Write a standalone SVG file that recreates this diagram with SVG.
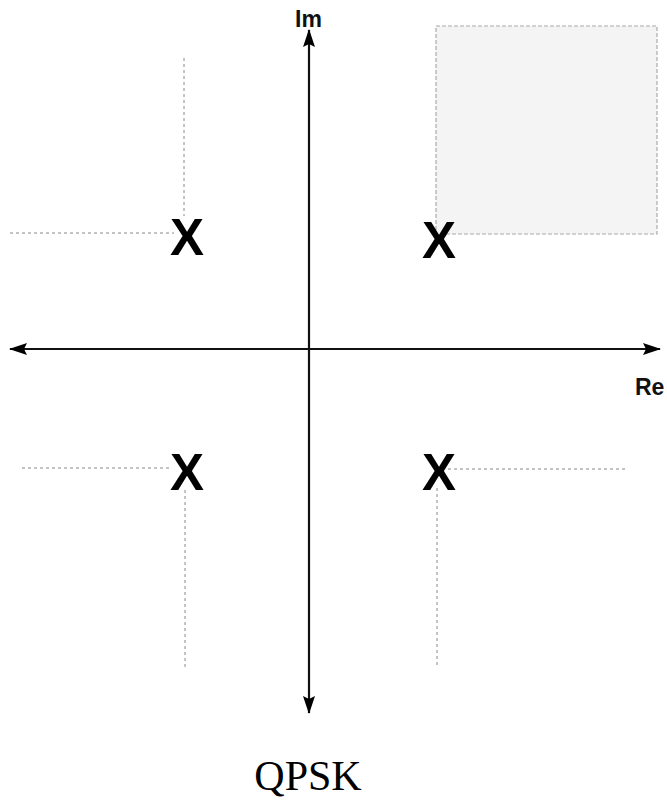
<svg xmlns="http://www.w3.org/2000/svg" width="667" height="801" viewBox="0 0 667 801">
<style>
.axis{stroke:#111;stroke-width:2.2;fill:none}
.dash{stroke:#888;stroke-width:1;stroke-dasharray:3,3;fill:none}
.pt{font-family:"Liberation Sans",Arial,sans-serif;font-weight:bold;font-size:51px;fill:#000;text-anchor:middle}
.lbl{font-family:"Liberation Sans",Arial,sans-serif;font-weight:bold;font-size:23px;fill:#111}
</style>
<defs>
<marker id="ah" viewBox="0 0 18 12" refX="17" refY="6" markerWidth="18" markerHeight="12" markerUnits="userSpaceOnUse" orient="auto">
<path d="M0,0 L18,6 L0,12 L3,6 Z" fill="#000"/>
</marker>
</defs>
<rect width="667" height="801" fill="#fff"/>
<g id="region">
<rect x="436" y="26" width="221" height="208" fill="#f4f4f4" stroke="#aaa" stroke-width="1.2" stroke-dasharray="4,2"/>
</g>
<g id="connectors">
<line class="axis" x1="309" y1="349" x2="309" y2="30" marker-end="url(#ah)"/>
<line class="axis" x1="309" y1="349" x2="309" y2="713" marker-end="url(#ah)"/>
<line class="axis" x1="309" y1="349" x2="10" y2="349" marker-end="url(#ah)"/>
<line class="axis" x1="309" y1="349" x2="660" y2="349" marker-end="url(#ah)"/>
<line class="dash" x1="10" y1="233" x2="174" y2="233"/>
<line class="dash" x1="184" y1="58" x2="184" y2="216"/>
<line class="dash" x1="22" y1="468" x2="172" y2="468"/>
<line class="dash" x1="185" y1="490" x2="185" y2="668"/>
<line class="dash" x1="448" y1="469" x2="625" y2="469"/>
<line class="dash" x1="437" y1="488" x2="437" y2="668"/>
</g>
<g id="labels">
<text class="lbl" x="295" y="27">Im</text>
<text class="lbl" x="635" y="395">Re</text>
</g>
<g id="p1"><text class="pt" x="187" y="255">X</text></g>
<g id="p2"><text class="pt" x="439" y="258">X</text></g>
<g id="p3"><text class="pt" x="187" y="490">X</text></g>
<g id="p4"><text class="pt" x="439" y="490">X</text></g>
<text x="308" y="790" font-family="'Liberation Serif','Times New Roman',serif" font-size="42" fill="#000" text-anchor="middle">QPSK</text>
</svg>
